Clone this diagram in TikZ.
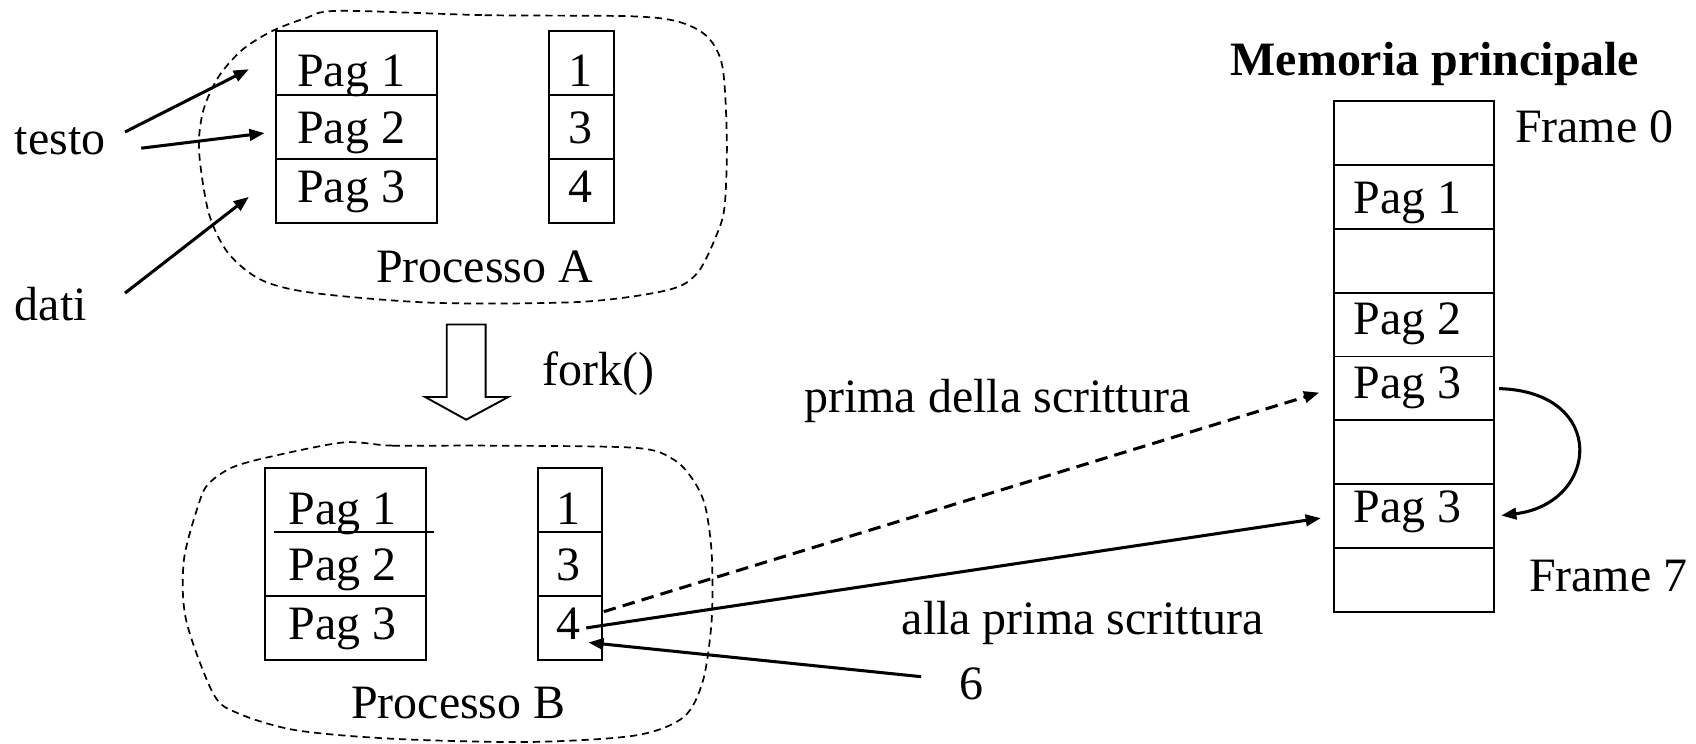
\documentclass[tikz,border=0pt]{standalone}
\usepackage{fontspec}
\setmainfont{Liberation Serif}
\usetikzlibrary{arrows.meta}

\begin{document}
\begin{tikzpicture}[x=0.01cm, y=-0.01cm,
    every node/.style={font=\fontsize{12.6}{15}\selectfont},
    txt/.style={anchor=base west, inner sep=0pt},
    num/.style={anchor=base, inner sep=0pt},
    cell/.style={draw, rectangle, line width=0.5pt, inner sep=0pt, minimum height=0.59cm},
    pagcell/.style={cell, minimum width=1.49cm},
    numcell/.style={cell, minimum width=0.595cm},
    memcell/.style={cell, minimum width=1.48cm, minimum height=0.591cm},
    blob/.style={line width=0.45pt, dash pattern=on 1.9pt off 1.3pt},
    arrow/.style={->, line width=0.8pt},
    dashline/.style={dash pattern=on 3.3pt off 1.9pt},
    >={Triangle[length=4pt,width=3pt]}]
\useasboundingbox (0,0) rectangle (1568,687);

% processo A
\node (pa1) at (329.5,58.5) [pagcell] {};
\node (pa2) at (329.5,117.5) [pagcell] {};
\node (pa3) at (329.5,176.5) [pagcell] {};
\node (fa1) at (537.5,58.5) [numcell] {};
\node (fa2) at (537.5,117.5) [numcell] {};
\node (fa3) at (537.5,176.5) [numcell] {};
\node (tpa1) at (274,80) [txt] {Pag 1};
\node (tpa2) at (274,133) [txt] {Pag 2};
\node (tpa3) at (274,187) [txt] {Pag 3};
\node (tfa1) at (537,80) [num] {1};
\node (tfa2) at (537,133) [num] {3};
\node (tfa3) at (537,187) [num] {4};
\node (proca) at (347,261) [txt] {Processo A};
\draw[blob] plot[smooth cycle] coordinates {(313,10) (448,14) (582,15) (627,20)
    (654,34) (668,62) (672,130) (670,190) (663,216) (645,252) (618,268) (538,279)
    (403,280) (291,271) (242,259) (211,234) (193,197) (184,139) (188,102) (202,71)
    (224,46) (251,29) (282,17)};

\node (testo) at (13,143) [txt] {testo};
\node (dati) at (13,296) [txt] {dati};

% fork
\draw[line width=0.5pt] (413,300) -- (449,300) -- (449,367) -- (470,367) -- (431,388)
    -- (393,367) -- (413,367) -- cycle;
\node (fork) at (501,356) [txt] {fork()};

% processo B
\node (pb12) at (319.5,492) [cell, minimum width=1.49cm, minimum height=1.18cm] {};
\node (pb3) at (319.5,580.5) [pagcell] {};
\draw[line width=0.5pt] (253,492) -- (401,492);
\node (fb1) at (527,462.5) [numcell] {};
\node (fb2) at (527,521.5) [numcell] {};
\node (fb3) at (527,580.5) [numcell] {};
\node (tpb1) at (266,484.5) [txt] {Pag 1};
\node (tpb2) at (266,537) [txt] {Pag 2};
\node (tpb3) at (266,591) [txt] {Pag 3};
\node (tfb1) at (526,484.5) [num] {1};
\node (tfb2) at (526,537) [num] {3};
\node (tfb3) at (526,591) [num] {4};
\node (procb) at (324,664) [txt] {Processo B};
\draw[blob] plot[smooth cycle] coordinates {(318,409) (363,412) (452,412) (587,414)
    (623,425) (641,444) (652,468) (658,512) (658,573) (650,629) (632,663) (587,680)
    (488,686) (363,683) (273,675) (219,659) (197,641) (172,573) (170,518) (184,465)
    (193,447) (215,432) (251,422)};

% memoria principale
\node (memtitle) at (1137,70) [txt] {\bfseries Memoria principale};
\node (mem0) at (1307,122.75) [memcell] {};
\node (mem1) at (1307,181.85) [memcell] {};
\node (mem2) at (1307,240.95) [memcell] {};
\node (mem3) at (1307,300.05) [memcell] {};
\node (mem4) at (1307,359.15) [memcell] {};
\node (mem5) at (1307,418.25) [memcell] {};
\node (mem6) at (1307,477.35) [memcell] {};
\node (mem7) at (1307,536.45) [memcell] {};
\node (tm1) at (1251,197) [txt] {Pag 1};
\node (tm3) at (1251,309.5) [txt] {Pag 2};
\node (tm4) at (1251,368) [txt] {Pag 3};
\node (tm6) at (1251,483) [txt] {Pag 3};
\node (frame0) at (1400,132) [txt] {Frame 0};
\node (frame7) at (1413,547) [txt] {Frame 7};

\node (prima) at (743,381) [txt] {prima della scrittura};
\node (alla) at (833,587) [txt] {alla prima scrittura};
\node (six) at (886,647) [txt] {6};

% frecce
\draw[arrow] ([shift={(17.5,-21)}]testo.base east) -- ([shift={(-24,5.5)}]pa1.west);
\draw[arrow] ([shift={(32.5,-6)}]testo.base east) -- ([shift={(-9.4,5.5)}]pa2.west);
\draw[arrow] ([shift={(34.7,-25)}]dati.base east) -- ([shift={(-24,5.5)}]pa3.west);
\draw[arrow, dashline, shorten >=0.13cm] ([shift={(0.5,-15)}]fb3.east) -- (mem4.west);
\draw[arrow, shorten >=0.11cm] ([shift={(15,0)}]fb3.center) -- (mem6.west);
\draw[arrow] ([shift={(-34.4,-21.4)}]six.base west) -- ([shift={(17,13.5)}]fb3.center);
\draw[arrow, shorten <=0.04cm, shorten >=0.06cm] (mem4.east) .. controls +(105,3) and +(97,-12) .. (mem6.east);
\end{tikzpicture}
\end{document}
